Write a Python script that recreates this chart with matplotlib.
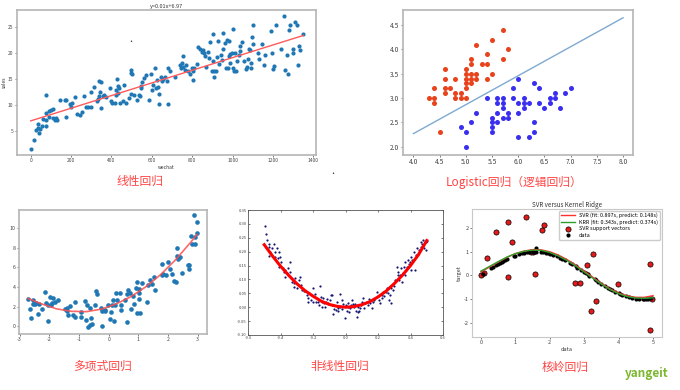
import matplotlib
matplotlib.use("Agg")
import matplotlib.pyplot as plt
import numpy as np

plt.rcParams['font.family'] = ['Noto Sans CJK SC', 'DejaVu Sans']
plt.rcParams['axes.unicode_minus'] = False

# ---------------- Panel 1: linear regression ----------------
lin_x = [0, 16, 25, 36, 36, 41, 45, 58, 61, 74, 78, 74, 78, 91, 91, 102, 111, 111, 119, 124,
         130, 144, 169, 177, 174, 194, 198, 202, 218, 230, 243, 256, 263, 273, 284, 301, 301, 312,
         326, 334, 339, 342, 339, 350, 350, 359, 362, 375, 392, 400, 405, 417, 421, 421, 428, 433,
         433, 438, 441, 455, 463, 471, 488, 496, 499, 501, 499, 511, 524, 537, 540, 548, 548, 553,
         560, 570, 587, 598, 601, 606, 615, 620, 626, 631, 634, 636, 643, 648, 653, 664, 673, 681,
         681, 689, 714, 739, 744, 747, 752, 755, 764, 768, 780, 788, 797, 802, 805, 809, 822, 830,
         838, 847, 851, 858, 863, 868, 879, 884, 887, 896, 901, 904, 907, 909, 917, 924, 929, 934,
         940, 947, 950, 954, 962, 967, 971, 976, 980, 984, 987, 987, 996, 1001, 1004, 1008, 1012,
         1017, 1023, 1031, 1036, 1036, 1044, 1056, 1066, 1072, 1077, 1082, 1086, 1089, 1091, 1094,
         1099, 1102, 1127, 1132, 1144, 1157, 1160, 1188, 1193, 1198, 1205, 1215, 1242, 1256, 1259,
         1271, 1276, 1280, 1284, 1297, 1301, 1309, 1317, 1322, 1330, 1334, 1347]
lin_y = [1.6, 3.2, 5.3, 5.6, 6.4, 4.7, 5.4, 5.9, 7.3, 6.0, 7.2, 8.5, 12.0, 7.8, 8.8, 9.1, 9.3, 7.5,
         7.2, 7.5, 7.2, 11.0, 10.9, 10.9, 7.7, 10.2, 9.7, 10.4, 11.5, 8.3, 8.1, 8.6, 11.7, 9.7, 9.7,
         9.7, 12.6, 13.5, 10.7, 11.2, 11.7, 12.6, 14.7, 14.5, 9.4, 11.7, 12.0, 11.5, 13.3, 10.7, 10.5,
         10.5, 12.9, 12.0, 15.0, 13.6, 12.3, 13.3, 10.4, 10.7, 13.9, 10.4, 11.4, 16.7, 16.2, 15.9,
         12.2, 12.0, 11.0, 12.0, 11.7, 13.7, 13.3, 14.4, 15.2, 15.8, 11.0, 15.9, 12.9, 13.9, 17.1,
         13.3, 14.9, 13.5, 12.2, 10.3, 15.4, 14.6, 15.0, 15.5, 14.6, 10.3, 17.2, 16.5, 15.5, 17.7,
         17.1, 18.1, 17.4, 19.5, 16.8, 17.7, 16.5, 16.0, 17.1, 16.5, 14.9, 17.1, 17.9, 21.2, 20.8,
         20.3, 20.6, 20.0, 19.5, 17.4, 20.3, 19.0, 22.2, 16.5, 23.7, 18.5, 16.6, 15.5, 16.5, 19.2,
         22.4, 17.9, 19.6, 18.6, 20.8, 23.8, 21.9, 17.1, 22.6, 17.2, 22.4, 19.5, 18.1, 19.9, 20.1,
         24.6, 17.1, 16.6, 20.0, 16.5, 18.4, 19.7, 20.5, 21.3, 22.1, 18.4, 16.9, 17.4, 18.8, 20.8,
         20.6, 18.1, 17.1, 23.1, 21.8, 25.4, 20.0, 18.8, 21.8, 17.7, 19.6, 24.2, 20.1, 16.9, 17.5,
         25.4, 20.8, 27.1, 16.8, 19.7, 15.9, 24.4, 25.4, 20.0, 20.8, 26.0, 25.4, 17.7, 21.3, 20.6, 23.7]
lin_fit_x = [0, 1350]
lin_fit_y = [6.97, 23.4]
lin_ticks_x = [0, 200, 400, 600, 800, 1000, 1200, 1400]
lin_ticks_y = [5, 10, 15, 20, 25]

# ---------------- Panel 2: logistic regression ----------------
red_x = [4.3, 4.4, 4.4, 4.4, 4.5, 4.6, 4.6, 4.6, 4.6, 4.7, 4.8, 4.8, 4.8, 4.9, 4.9, 5.0, 5.0, 5.0,
         5.0, 5.0, 5.0, 5.1, 5.1, 5.1, 5.1, 5.1, 5.2, 5.2, 5.2, 5.3, 5.4, 5.4, 5.4, 5.5, 5.5, 5.7,
         5.7, 5.8]
red_y = [3.0, 3.2, 3.0, 2.9, 2.3, 3.6, 3.4, 3.2, 3.1, 3.2, 3.4, 3.1, 3.0, 3.1, 3.0, 3.6, 3.5, 3.4,
         3.3, 3.2, 3.0, 3.8, 3.7, 3.5, 3.4, 3.3, 4.1, 3.5, 3.4, 3.7, 3.9, 3.7, 3.4, 4.2, 3.5, 4.4,
         3.8, 4.0]
blue_x = [5.0, 5.0, 4.9, 5.1, 5.2, 5.4, 5.5, 5.5, 5.5, 5.5, 5.6, 5.6, 5.6, 5.6, 5.7, 5.7, 5.7, 5.7,
          5.8, 5.8, 5.9, 5.9, 6.0, 6.0, 6.0, 6.0, 6.1, 6.1, 6.1, 6.2, 6.2, 6.3, 6.3, 6.3, 6.4, 6.4,
          6.5, 6.6, 6.6, 6.7, 6.7, 6.8, 6.9, 7.0]
blue_y = [2.0, 2.3, 2.4, 2.5, 2.7, 3.0, 2.6, 2.5, 2.4, 2.3, 3.0, 2.9, 2.7, 2.5, 3.0, 2.9, 2.8, 2.6,
          2.7, 2.6, 3.2, 3.0, 3.4, 2.9, 2.7, 2.2, 3.0, 2.9, 2.8, 2.9, 2.2, 3.3, 2.5, 2.3, 3.2, 2.9,
          2.8, 3.0, 2.9, 3.1, 3.0, 2.8, 3.1, 3.2]
log_line_x = [4.0, 8.0]
log_line_y = [2.27, 4.65]
log_ticks_x = [4.0, 4.5, 5.0, 5.5, 6.0, 6.5, 7.0, 7.5, 8.0]
log_ticks_y = [2.0, 2.5, 3.0, 3.5, 4.0, 4.5]

# ---------------- Panel 3: polynomial regression ----------------
poly_x = [-2.72, -2.66, -2.63, -2.55, -2.55, -2.44, -2.47, -2.38, -2.36, -2.23, -2.15, -2.10, -2.04,
          -2.04, -1.99, -1.95, -1.91, -1.87, -1.82, -1.71, -1.48, -1.42, -1.42, -1.37, -1.31, -1.20,
          -1.14, -1.14, -0.92, -0.92, -0.80, -0.73, -0.75, -0.69, -0.64, -0.60, -0.64, -0.56, -0.45,
          -0.43, -0.38, -0.26, -0.24, -0.22, -0.13, -0.11, -0.02, 0.04, 0.07, 0.12, 0.13, 0.17, 0.21,
          0.23, 0.27, 0.38, 0.41, 0.43, 0.55, 0.60, 0.60, 0.66, 0.72, 0.75, 0.83, 0.86, 0.91, 0.94,
          0.94, 1.02, 1.02, 1.05, 1.02, 1.11, 1.28, 1.34, 1.38, 1.47, 1.54, 1.56, 1.79, 1.79, 1.84,
          1.92, 2.01, 2.07, 2.12, 2.21, 2.26, 2.29, 2.29, 2.35, 2.35, 2.41, 2.46, 2.66, 2.71, 2.71,
          2.77, 2.80, 2.86, 2.91, 2.97, 2.97, 2.91]
poly_y = [2.78, 1.76, 0.85, 2.71, 2.31, 2.37, 2.27, 1.29, 2.27, 1.76, 3.49, 2.37, 0.58, 2.20, 2.95,
          2.20, 2.37, 2.88, 2.47, 2.71, 1.76, 1.86, 1.59, 1.19, 2.10, 1.19, 0.92, 2.44, 1.42, 0.95,
          2.61, 2.20, 0.68, -0.10, 0.10, 0.85, 1.86, 0.27, 2.13, 3.63, 3.29, 1.86, 0.00, 1.53, 1.63,
          1.53, 2.20, 0.75, 1.46, 2.13, 2.71, 0.51, 2.20, 3.39, 2.71, 3.39, 1.63, 2.20, 2.71, 0.44,
          3.29, 3.73, 3.39, 1.80, 3.05, 2.27, 3.90, 1.36, 4.51, 3.39, 2.78, 1.36, 3.83, 4.41, 2.47,
          4.24, 4.75, 4.34, 5.08, 3.66, 6.34, 5.25, 5.32, 5.19, 6.54, 5.83, 5.32, 4.64, 4.51, 7.97,
          7.22, 6.88, 7.12, 7.12, 5.42, 6.27, 5.86, 6.27, 9.22, 8.37, 11.36, 9.15, 9.49, 10.61, 8.37]
poly_fit_x = [-2.72, -2.25, -1.75, -1.25, -0.75, -0.25, 0.25, 0.75, 1.25, 1.75, 2.25, 2.75, 2.97]
poly_fit_y = [2.85, 2.28, 1.78, 1.53, 1.50, 1.75, 2.28, 3.03, 4.03, 5.28, 6.78, 8.53, 9.35]
poly_ticks_x = [-3, -2, -1, 0, 1, 2, 3]
poly_ticks_y = [0, 2, 4, 6, 8, 10]

# ---------------- Panel 4: nonlinear regression ----------------
nl_x = [-0.498, -0.49, -0.483, -0.473, -0.469, -0.473, -0.463, -0.453, -0.443, -0.436, -0.432, -0.422,
        -0.412, -0.416, -0.408, -0.402, -0.396, -0.387, -0.381, -0.375, -0.371, -0.361, -0.355, -0.34,
        -0.34, -0.33, -0.32, -0.314, -0.31, -0.30, -0.289, -0.279, -0.273, -0.265, -0.258, -0.248,
        -0.238, -0.232, -0.228, -0.224, -0.211, -0.203, -0.197, -0.187, -0.183, -0.171, -0.162, -0.156,
        -0.15, -0.146, -0.142, -0.136, -0.13, -0.126, -0.121, -0.115, -0.109, -0.101, -0.095, -0.089,
        -0.085, -0.081, -0.074, -0.068, -0.06, -0.054, -0.048, -0.044, -0.034, -0.034, -0.023, -0.019,
        -0.013, -0.003, 0.001, 0.007, 0.013, 0.018, 0.022, 0.028, 0.034, 0.042, 0.048, 0.054, 0.058,
        0.062, 0.069, 0.075, 0.079, 0.083, 0.089, 0.095, 0.103, 0.11, 0.116, 0.12, 0.13, 0.136, 0.144,
        0.15, 0.161, 0.171, 0.177, 0.191, 0.197, 0.205, 0.211, 0.222, 0.226, 0.232, 0.238, 0.247,
        0.253, 0.263, 0.267, 0.273, 0.279, 0.283, 0.294, 0.30, 0.304, 0.314, 0.32, 0.324, 0.328,
        0.334, 0.34, 0.345, 0.355, 0.361, 0.365, 0.369, 0.375, 0.381, 0.386, 0.39, 0.396, 0.402,
        0.406, 0.41, 0.422, 0.427, 0.431, 0.437, 0.447, 0.451, 0.463, 0.467, 0.471, 0.478, 0.484,
        0.488, 0.494, 0.498, 0.504]
nl_y = [0.294, 0.262, 0.242, 0.226, 0.218, 0.186, 0.20, 0.212, 0.226, 0.20, 0.182, 0.212, 0.20, 0.176,
        0.146, 0.182, 0.164, 0.14, 0.128, 0.11, 0.134, 0.122, 0.14, 0.164, 0.128, 0.09, 0.086, 0.074,
        0.104, 0.07, 0.098, 0.11, 0.08, 0.062, 0.058, 0.058, 0.044, 0.032, 0.02, 0.05, 0.026, 0.068,
        0.02, 0.046, 0.02, 0.02, 0.008, 0.076, 0.038, 0.02, 0.002, 0.034, 0.014, 0.002, 0.02, 0.03,
        0.014, 0.01, 0.026, 0.044, 0.008, 0.044, -0.026, -0.007, -0.01, 0.02, -0.014, -0.004, 0.046,
        0.002, 0.026, -0.007, 0.01, -0.04, 0.008, -0.014, 0.002, 0.016, -0.016, -0.004, 0.008, 0.026,
        0.01, 0.002, 0.01, -0.014, -0.034, -0.019, 0.002, -0.014, -0.004, 0.008, 0.017, 0.034, -0.004,
        0.014, 0.02, 0.008, 0.03, 0.014, -0.002, 0.02, 0.026, 0.053, 0.041, 0.026, 0.014, 0.044, 0.032,
        0.056, 0.041, 0.053, 0.068, 0.05, 0.026, 0.044, 0.07, 0.014, 0.062, 0.078, 0.098, 0.146, 0.115,
        0.128, 0.098, 0.115, 0.14, 0.092, 0.122, 0.146, 0.116, 0.164, 0.134, 0.146, 0.17, 0.154, 0.164,
        0.134, 0.182, 0.17, 0.20, 0.134, 0.188, 0.212, 0.19, 0.206, 0.218, 0.236, 0.226, 0.242, 0.214,
        0.236, 0.234, 0.206, 0.238]
nl_fit_x = [-0.5, -0.45, -0.4, -0.35, -0.3, -0.25, -0.2, -0.15, -0.1, -0.05, 0.0, 0.05, 0.1, 0.15,
            0.2, 0.25, 0.3, 0.35, 0.4, 0.45, 0.5]
nl_fit_y = [0.225, 0.185, 0.148, 0.115, 0.085, 0.06, 0.04, 0.022, 0.01, 0.003, 0.0, 0.002, 0.009,
            0.02, 0.037, 0.058, 0.085, 0.115, 0.15, 0.19, 0.24]
nl_ticks_x = [-0.6, -0.4, -0.2, 0.0, 0.2, 0.4, 0.6]
nl_ticks_y = [-0.10, -0.05, 0.00, 0.05, 0.10, 0.15, 0.20, 0.25, 0.30, 0.35]

# ---------------- Panel 5: SVR vs Kernel Ridge ----------------
sv_x = [0.0, 0.08, 0.17, 0.43, 0.80, 0.80, 0.90, 1.32, 1.58, 1.77, 1.82, 2.74, 2.87, 3.08, 3.20,
        3.26, 3.35, 3.97, 4.90, 4.90, 1.45, 1.50, 4.98]
sv_y = [0.01, 0.11, 0.72, 1.83, 2.24, -0.06, 1.40, 2.47, 0.06, 1.90, 2.14, -0.31, -0.31, 0.44,
        -1.52, 0.89, -1.09, -0.38, 0.50, -2.30, 1.00, 1.00, -1.00]
data_x = [0.05, 0.3, 0.35, 0.45, 0.5, 0.55, 0.6, 0.65, 0.7, 0.75, 0.95, 1.0, 1.1, 1.2, 1.25, 1.35,
          1.4, 1.5, 1.55, 1.6, 1.6, 1.75, 1.8, 1.9, 1.95, 2.0, 2.1, 2.2, 2.3, 2.35, 2.45, 2.6, 2.65,
          2.75, 2.8, 2.9, 3.0, 3.05, 3.1, 3.15, 3.3, 3.35, 3.4, 3.5, 3.6, 3.7, 3.75, 3.8, 3.9, 4.0,
          4.05, 4.1, 4.2, 4.3, 4.4, 4.5, 4.6, 4.7, 4.75, 4.8, 4.85, 4.95]
data_y = [0.05, 0.30, 0.34, 0.43, 0.48, 0.52, 0.56, 0.61, 0.64, 0.68, 0.81, 0.84, 0.89, 0.93, 0.95,
          0.98, 0.99, 1.0, 1.0, 1.0, 1.15, 0.98, 0.97, 0.95, 0.93, 0.91, 0.86, 0.81, 0.75, 0.71, 0.64,
          0.52, 0.47, 0.38, 0.33, 0.24, 0.14, 0.09, 0.04, -0.01, -0.16, -0.21, -0.26, -0.35, -0.44,
          -0.53, -0.57, -0.61, -0.69, -0.76, -0.79, -0.83, -0.87, -0.92, -0.95, -0.98, -0.99, -1.0,
          -1.0, -1.0, -0.99, -0.97]
curve_x = [0.0, 0.25, 0.5, 0.75, 1.0, 1.25, 1.5, 1.75, 2.0, 2.25, 2.5, 2.75, 3.0, 3.25, 3.5, 3.75,
           4.0, 4.25, 4.5, 4.75, 5.0]
svr_y = [0.15, 0.35, 0.56, 0.76, 0.92, 1.03, 1.09, 1.08, 1.0, 0.86, 0.67, 0.44, 0.18, -0.08, -0.34,
         -0.57, -0.75, -0.87, -0.93, -0.93, -0.86]
krr_y = [0.18, 0.38, 0.58, 0.77, 0.92, 1.02, 1.07, 1.06, 0.97, 0.82, 0.63, 0.40, 0.14, -0.12, -0.37,
         -0.60, -0.78, -0.90, -0.96, -0.97, -0.95]
svr_label = "SVR (fit: 0.897s, predict: 0.148s)"
krr_label = "KRR (fit: 0.343s, predict: 0.374s)"
svr_ticks_x = [0, 1, 2, 3, 4, 5]
svr_ticks_y = [-2, -1, 0, 1, 2]

captions = ["线性回归", "Logistic回归（逻辑回归）", "多项式回归", "非线性回归", "核岭回归"]

W, H = 680, 390
fig = plt.figure(figsize=(W / 100, H / 100), dpi=100)
fig.patch.set_facecolor('white')


def box(l, r, t, b):
    return [l / W, 1 - b / H, (r - l) / W, (b - t) / H]


def style(ax, fs, spine_col='#b5b5b5', lw=1.2, tick_col='#444444'):
    for s in ax.spines.values():
        s.set_color(spine_col)
        s.set_linewidth(lw)
    ax.tick_params(labelsize=fs, length=1.5, width=0.5, pad=1, colors=tick_col)


cap_color = '#ff4545'

# Panel 1
ax1 = fig.add_axes(box(17, 316, 10, 155))
ax1.scatter(lin_x, lin_y, s=9, color='#1f77b4', linewidths=0)
ax1.plot(lin_fit_x, lin_fit_y, color='#ff5a5a', lw=1.0)
ax1.set_xlim(-68, 1413)
ax1.set_ylim(0.4, 28.3)
ax1.set_xticks(lin_ticks_x)
ax1.set_yticks(lin_ticks_y)
style(ax1, 3.5)
ax1.set_title("y=0.01x+6.97", fontsize=4, pad=1.5, color='#333333')
ax1.set_xlabel("wechat", fontsize=3.5, labelpad=1, color='#333333')
ax1.set_ylabel("sales", fontsize=3.5, labelpad=1, color='#333333')

# Panel 2
ax2 = fig.add_axes(box(403, 633, 10, 155))
ax2.scatter(red_x, red_y, s=13, color='#e8431c', linewidths=0)
ax2.scatter(blue_x, blue_y, s=13, color='#3a2ff0', linewidths=0)
ax2.plot(log_line_x, log_line_y, color='#7ea9d1', lw=1.0)
ax2.set_xlim(3.8, 8.19)
ax2.set_ylim(1.83, 4.81)
ax2.set_xticks(log_ticks_x)
ax2.set_yticks(log_ticks_y)
style(ax2, 4.8)

# Panel 3
ax3 = fig.add_axes(box(19, 207, 210, 334))
ax3.scatter(poly_x, poly_y, s=11, color='#1f77b4', linewidths=0)
ax3.plot(poly_fit_x, poly_fit_y, color='#ff4d4d', lw=1.2, alpha=0.85)
ax3.set_xlim(-3.02, 3.31)
ax3.set_ylim(-0.78, 11.86)
ax3.set_xticks(poly_ticks_x)
ax3.set_yticks(poly_ticks_y)
style(ax3, 3.8)

# Panel 4
ax4 = fig.add_axes(box(248, 443, 210, 335))
ax4.scatter(nl_x, nl_y, s=2.5, color='#14146e', linewidths=0)
ax4.plot(nl_fit_x, nl_fit_y, color='red', lw=2.2)
ax4.set_xlim(-0.6, 0.6)
ax4.set_ylim(-0.10, 0.35)
ax4.set_xticks(nl_ticks_x)
ax4.set_yticks(nl_ticks_y)
ax4.xaxis.set_major_formatter(matplotlib.ticker.FormatStrFormatter('%.1f'))
ax4.yaxis.set_major_formatter(matplotlib.ticker.FormatStrFormatter('%.2f'))
style(ax4, 3.0, spine_col='#555555', lw=0.6)
ax4.tick_params(top=True, right=True, direction='in')

# Panel 5
ax5 = fig.add_axes(box(472, 662, 209, 337))
ax5.scatter(sv_x, sv_y, s=14, color='#e8191a', edgecolors='black', linewidths=0.5,
            label="SVR support vectors", zorder=2)
ax5.scatter(data_x, data_y, s=9, color='black', linewidths=0, label="data", zorder=3)
ax5.plot(curve_x, svr_y, color='#ff3030', lw=1.0, label=svr_label, zorder=4)
ax5.plot(curve_x, krr_y, color='#2ca02c', lw=1.0, label=krr_label, zorder=4)
ax5.set_xlim(-0.26, 5.26)
ax5.set_ylim(-2.61, 2.81)
ax5.set_xticks(svr_ticks_x)
ax5.set_yticks(svr_ticks_y)
style(ax5, 4.0, spine_col='#c8c8c8', lw=0.8)
ax5.set_title("SVR versus Kernel Ridge", fontsize=4.5, pad=1.5, color='#333333')
ax5.set_xlabel("data", fontsize=4, labelpad=1, color='#333333')
ax5.set_ylabel("target", fontsize=4, labelpad=1, color='#333333')
h, l = ax5.get_legend_handles_labels()
order = [2, 3, 0, 1]
ax5.legend([h[i] for i in order], [l[i] for i in order], loc='upper right', fontsize=3.9,
           frameon=True, framealpha=1, edgecolor='#cccccc', borderpad=0.4, handlelength=2.5,
           labelspacing=0.25, borderaxespad=0.3)

# small stray marks in the source picture
fig.text(131 / W, 1 - 42 / H, "·", color='#333333', fontsize=5, ha='center', va='center')
fig.text(333 / W, 1 - 174 / H, "·", color='#333333', fontsize=5, ha='center', va='center')

# captions
fig.text(140 / W, 1 - 181 / H, captions[0], color=cap_color, fontsize=8.5, ha='center', va='center')
fig.text(514 / W, 1 - 182 / H, captions[1], color=cap_color, fontsize=8.5, ha='center', va='center')
fig.text(102 / W, 1 - 366 / H, captions[2], color=cap_color, fontsize=8.5, ha='center', va='center')
fig.text(340 / W, 1 - 366 / H, captions[3], color=cap_color, fontsize=8.5, ha='center', va='center')
fig.text(565 / W, 1 - 367 / H, captions[4], color=cap_color, fontsize=8.5, ha='center', va='center')
fig.text(647 / W, 1 - 373 / H, "yangeit", color='#7cb82f', fontsize=8.5, fontweight='bold',
         ha='center', va='center')

fig.savefig("out.png", dpi=100, facecolor='white')
